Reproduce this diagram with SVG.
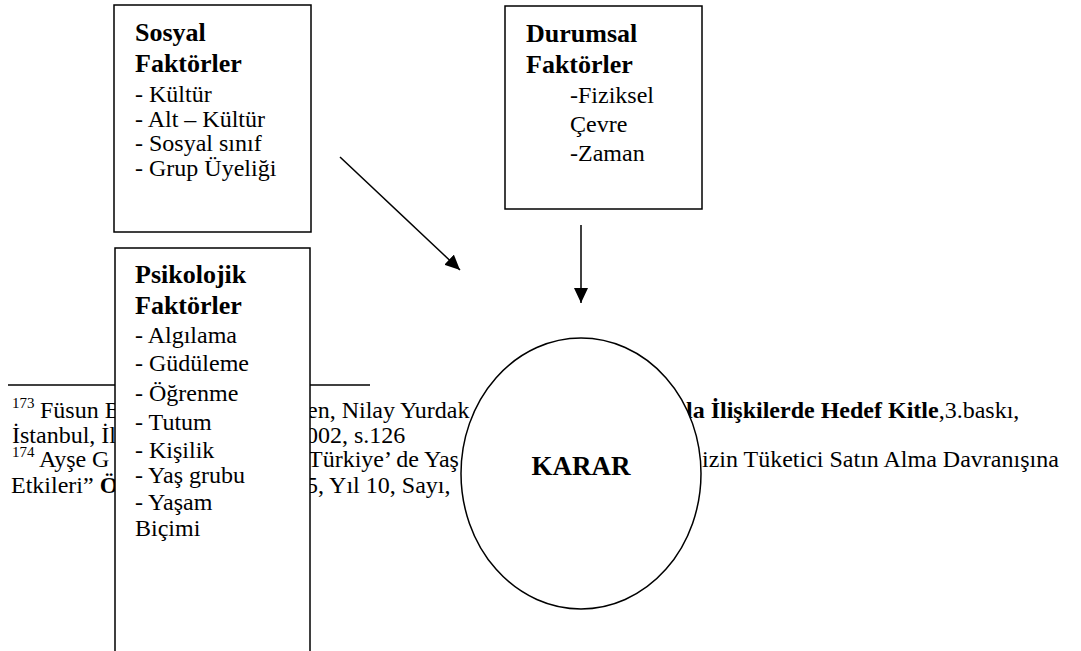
<svg xmlns="http://www.w3.org/2000/svg" width="1081" height="651" viewBox="0 0 1081 651">
<style>
text{font-family:"Liberation Serif","Times New Roman",serif;fill:#000}
.h{font-size:26px;font-weight:bold}
.i{font-size:24px}
.f{font-size:24px}
.s{font-size:15px}
.b{font-weight:bold}
.box{fill:#fff;stroke:#000;stroke-width:1.5}
.ln{stroke:#000;stroke-width:1.5;fill:none}
</style>
<defs>
<marker id="ah" markerUnits="userSpaceOnUse" markerWidth="16" markerHeight="14" refX="15" refY="7" orient="auto">
<path d="M0,0 L15,7 L0,14 z" fill="#000"/>
</marker>
</defs>
<rect width="1081" height="651" fill="#fff"/>
<g id="footnotes">
<line x1="8" y1="385" x2="370" y2="385" stroke="#000" stroke-width="1.5"/>
<text class="s" x="12" y="408">173</text>
<text class="f" x="40" y="418">Füsun B</text>
<text class="f" x="307" y="418">en, Nilay Yurdak</text>
<text class="f" x="686" y="418"><tspan class="b">la İlişkilerde Hedef Kitle</tspan>,3.baskı,</text>
<text class="f" x="12" y="443">İstanbul, İl</text>
<text class="f" x="306" y="443">002,  s.126</text>
<text class="s" x="12" y="457">174</text>
<text class="f" x="39" y="467">Ayşe G</text>
<text class="f" x="308" y="467">Türkiye’ de Yaş</text>
<text class="f" x="702" y="467">izin Tüketici Satın Alma Davranışına</text>
<text class="f" x="11" y="493">Etkileri” <tspan class="b">Ö</tspan></text>
<text class="f" x="306" y="493">5, Yıl 10, Sayı,</text>
</g>
<g id="sosyal">
<rect class="box" x="114" y="5" width="197" height="227"/>
<text class="h" x="135" y="41">Sosyal</text>
<text class="h" x="135" y="72">Faktörler</text>
<text class="i" x="135" y="102">- Kültür</text>
<text class="i" x="135" y="127">- Alt – Kültür</text>
<text class="i" x="135" y="151">- Sosyal sınıf</text>
<text class="i" x="135" y="176">- Grup Üyeliği</text>
</g>
<g id="durumsal">
<rect class="box" x="505" y="6" width="197" height="203"/>
<text class="h" x="526" y="42">Durumsal</text>
<text class="h" x="526" y="73">Faktörler</text>
<text class="i" x="570" y="103">-Fiziksel</text>
<text class="i" x="570" y="132">Çevre</text>
<text class="i" x="570" y="161">-Zaman</text>
</g>
<g id="psikolojik">
<rect class="box" x="115" y="248" width="195" height="430"/>
<text class="h" x="135" y="283">Psikolojik</text>
<text class="h" x="135" y="314">Faktörler</text>
<text class="i" x="135" y="343">- Algılama</text>
<text class="i" x="135" y="371">- Güdüleme</text>
<text class="i" x="135" y="401">- Öğrenme</text>
<text class="i" x="135" y="430">- Tutum</text>
<text class="i" x="135" y="458">- Kişilik</text>
<text class="i" x="135" y="483">- Yaş grubu</text>
<text class="i" x="135" y="510">- Yaşam</text>
<text class="i" x="135" y="536">Biçimi</text>
</g>
<g id="karar">
<ellipse class="box" cx="581" cy="473.5" rx="120" ry="135.5"/>
<text x="581" y="475" text-anchor="middle" style="font-size:27px;font-weight:bold">KARAR</text>
</g>
<g id="connectors">
<line class="ln" x1="340" y1="157" x2="460" y2="270" marker-end="url(#ah)"/>
<line class="ln" x1="581" y1="225" x2="581" y2="303" marker-end="url(#ah)"/>
</g>
</svg>
